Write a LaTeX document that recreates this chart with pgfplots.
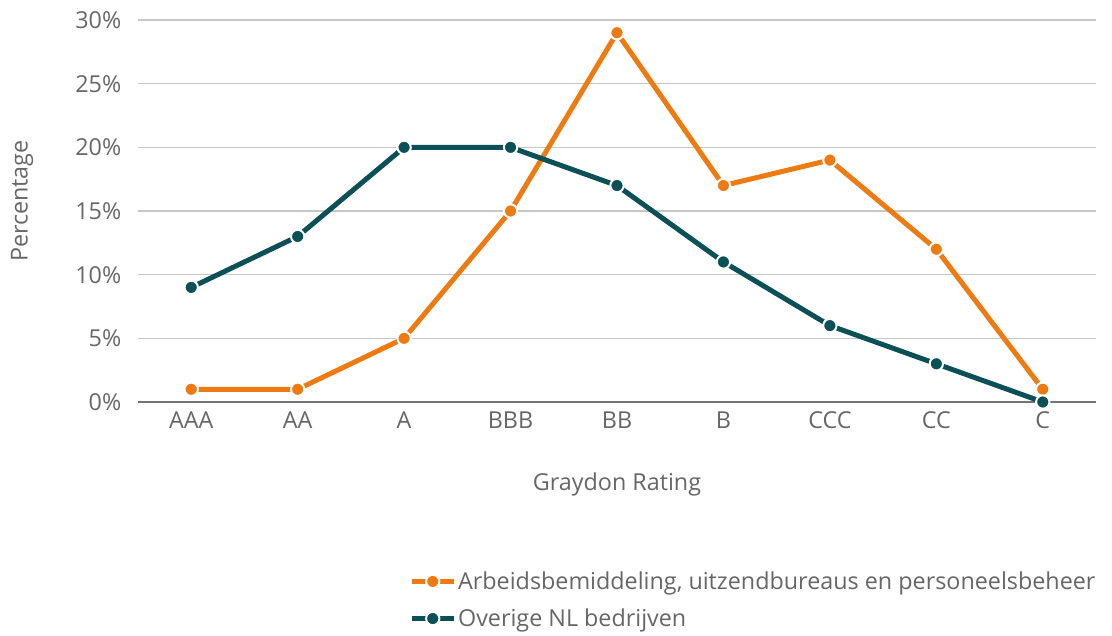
\documentclass[border=0pt]{standalone}
\usepackage{pgfplots}
\pgfplotsset{compat=1.18}
\usepackage{fontspec}
\setmainfont{Open Sans}
\definecolor{orng}{HTML}{EE7A12}
\definecolor{teal2}{HTML}{0B4F57}
\definecolor{txt}{HTML}{666666}
\begin{document}
\begin{tikzpicture}
\useasboundingbox (-103.5pt,-174.75pt) rectangle (730.5pt,301.5pt);
\begin{axis}[
  at={(0pt,0pt)}, anchor=south west,
  scale only axis,
  width=718.5pt, height=286.5pt,
  xmin=-0.5, xmax=8.5, ymin=0, ymax=30,
  xtick={0,...,8},
  xticklabels={AAA,AA,A,BBB,BB,B,CCC,CC,C},
  ytick={0,5,...,30},
  yticklabel={\pgfmathprintnumber{\tick}\%},
  /pgf/number format/assume math mode=true,
  ymajorgrids,
  grid style={draw=black!22, line width=1pt},
  axis x line*=bottom, axis y line*=left,
  x axis line style={draw=black!55, line width=1pt, -},
  y axis line style={draw=none},
  xtick style={draw=none}, ytick style={draw=none},
  tick label style={font=\fontsize{17.5}{19}\selectfont, text=txt},
  yticklabel style={xshift=-9pt},
  xticklabel style={yshift=-4pt},
  xlabel={Graydon Rating},
  ylabel={Percentage},
  label style={font=\fontsize{17.5}{19}\selectfont, text=txt},
  xlabel style={at={(axis description cs:0.5,-0.215)}, anchor=center},
  ylabel style={at={(axis description cs:-0.121,0.526)}, anchor=center},
  clip=false,
  legend style={at={(0.283,-0.438)}, anchor=north west, draw=none, fill=none,
    font=\fontsize{17.5}{21}\selectfont, text=txt, row sep=10pt, inner sep=0pt,
    nodes={inner sep=1.5pt}},
  legend cell align=left,
  legend image code/.code={%
    \draw[#1, mark=none, line width=3.75pt] (0cm,0cm) -- (1.1cm,0cm);
    \draw[#1, only marks] plot coordinates {(0.55cm,0cm)};
  },
]
\addplot[orng, line width=3.75pt, mark=*, mark size=5pt,
  mark options={draw=white, fill=orng, line width=1.5pt}]
  coordinates {(0,1)(1,1)(2,5)(3,15)(4,29)(5,17)(6,19)(7,12)(8,1)};
\addlegendentry{Arbeidsbemiddeling, uitzendbureaus en personeelsbeheer}
\addplot[teal2, line width=3.75pt, mark=*, mark size=5pt,
  mark options={draw=white, fill=teal2, line width=1.5pt}]
  coordinates {(0,9)(1,13)(2,20)(3,20)(4,17)(5,11)(6,6)(7,3)(8,0)};
\addlegendentry{Overige NL bedrijven}
\end{axis}
\end{tikzpicture}
\end{document}
